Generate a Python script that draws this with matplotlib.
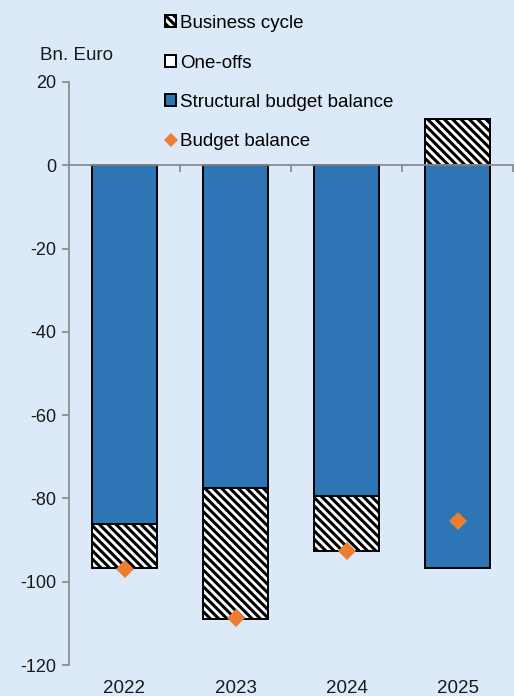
import matplotlib
matplotlib.use("Agg")
import matplotlib.pyplot as plt
import numpy as np
from matplotlib.patches import Patch
from matplotlib.lines import Line2D

years = ["2022", "2023", "2024", "2025"]
structural = [-86.2, -77.6, -79.3, -96.6]
business_cycle = [-10.6, -31.3, -13.3, 11.2]
one_offs = [0.0, 0.0, 0.0, 0.0]
budget_balance = [-97.0, -108.8, -92.6, -85.4]
yticks = [20, 0, -20, -40, -60, -80, -100, -120]

BG = "#DCE9F8"
BLUE = "#2E75B6"
ORANGE = "#ED7D31"
GRAY = "#8C8C8C"
HATCH = "\\" * 4

plt.rcParams["font.family"] = ["Liberation Sans", "DejaVu Sans"]
plt.rcParams["hatch.linewidth"] = 2.2
plt.rcParams["hatch.color"] = "black"

fig = plt.figure(figsize=(5.14, 6.96), dpi=100, facecolor=BG)
ax = fig.add_axes([69/514, 1-665/696, 444/514, (665-82)/696])
ax.set_facecolor(BG)

x = np.arange(len(years))
w = 0.59
s = np.array(structural)
bc = np.array(business_cycle)

ax.bar(x, s, width=w, color=BLUE, edgecolor="black", linewidth=1.4, zorder=2)
bc_bottom = np.where(bc < 0, s, 0)
ax.bar(x, bc, bottom=bc_bottom, width=w, color="white", edgecolor="black",
       linewidth=1.4, hatch=HATCH, zorder=2)
ax.plot(x, budget_balance, linestyle="none", marker="D", markersize=9,
        color=ORANGE, markeredgewidth=0, zorder=4)

ax.set_xlim(-0.5, 3.5)
ax.set_ylim(-120, 20)
ax.set_yticks(yticks)
ax.set_yticklabels([str(v) for v in yticks])

for sp in ["top", "right"]:
    ax.spines[sp].set_visible(False)
ax.spines["left"].set_color(GRAY)
ax.spines["left"].set_linewidth(1.3)
ax.spines["bottom"].set_position(("data", 0))
ax.spines["bottom"].set_color(GRAY)
ax.spines["bottom"].set_linewidth(1.3)
ax.spines["bottom"].set_zorder(5)
ax.spines["left"].set_zorder(5)

ax.set_xticks(np.arange(0.5, 4, 1.0))
ax.set_xticklabels([])
ax.tick_params(axis="x", direction="out", length=5, width=1.3, color=GRAY)
ax.tick_params(axis="y", direction="out", length=5, width=1.3, color=GRAY,
               labelsize=13, pad=4, labelcolor="#1a1a1a")

for xi, lab in zip(x, years):
    ax.text(xi, -0.025, lab, transform=ax.get_xaxis_transform(),
            ha="center", va="top", fontsize=13.5, color="#1a1a1a")

fig.text(40/514, 1-56/696, "Bn. Euro", ha="left", va="center", fontsize=13.5,
         color="#1a1a1a")

handles = [
    Patch(facecolor="white", edgecolor="black", hatch=HATCH, linewidth=1.4),
    Patch(facecolor="white", edgecolor="black", linewidth=1.4),
    Patch(facecolor=BLUE, edgecolor="black", linewidth=1.4),
    Line2D([], [], linestyle="none", marker="D", markersize=7, color=ORANGE,
           markeredgewidth=0),
]
labels = ["Business cycle", "One-offs", "Structural budget balance", "Budget balance"]
leg = fig.legend(handles, labels, loc="upper left",
                 bbox_to_anchor=(165/514, 1-15/696), frameon=False,
                 fontsize=13.5, handlelength=0.6, handleheight=0.6,
                 handletextpad=0.2, labelspacing=1.2, borderpad=0,
                 borderaxespad=0)

fig.savefig("out.png", dpi=100, facecolor=BG)
